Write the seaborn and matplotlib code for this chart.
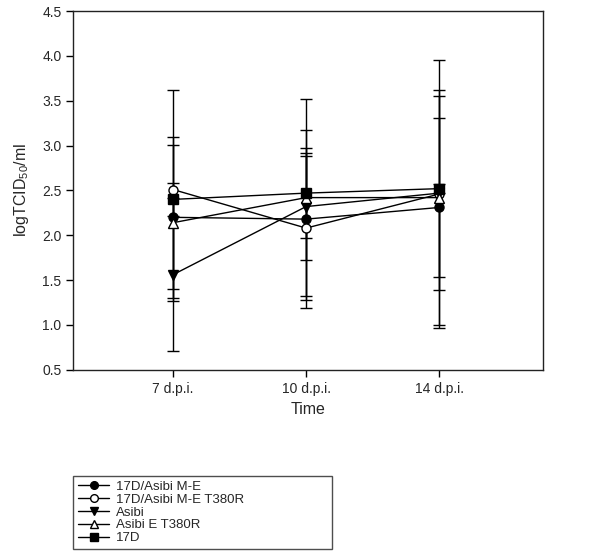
import matplotlib
matplotlib.use("Agg")
import matplotlib.pyplot as plt
import seaborn as sns
import pandas as pd
import numpy as np

sns.set_style("ticks")
plt.rcParams['font.family'] = ['Liberation Sans', 'DejaVu Sans']
plt.rcParams['mathtext.default'] = 'regular'

# data (mean and symmetric error per time point)
times = ["7 d.p.i.", "10 d.p.i.", "14 d.p.i."]
series = ["17D/Asibi M-E", "17D/Asibi M-E T380R", "Asibi", "Asibi E T380R", "17D"]

m_ME = [2.20, 2.18, 2.31]
m_ME_T380R = [2.51, 2.08, 2.46]
asibi = [1.56, 2.32, 2.47]
asibi_T380R = [2.14, 2.42, 2.42]
d17 = [2.40, 2.47, 2.52]

e_ME = [0.90, 0.99, 1.31]
e_ME_T380R = [1.11, 0.80, 1.50]
e_asibi = [0.85, 0.60, 1.08]
e_asibi_T380R = [0.87, 1.10, 0.89]
e_d17 = [0.18, 0.50, 0.05]

means = [m_ME, m_ME_T380R, asibi, asibi_T380R, d17]
errs = [e_ME, e_ME_T380R, e_asibi, e_asibi_T380R, e_d17]
markers = ["o", "o", "v", "^", "s"]
faces = ["black", "white", "black", "white", "black"]

fig = plt.figure(figsize=(6.0, 5.56), dpi=100)
ax = fig.add_axes([0.122, 0.335, 0.783, 0.645])

xpos = np.arange(1, len(times) + 1)
handles = []
for name, m, e, mk, fc in zip(series, means, errs, markers, faces):
    df = pd.DataFrame({"x": xpos, "y": m})
    ax.errorbar(xpos, m, yerr=e, fmt="none", ecolor="black", elinewidth=1,
                capsize=4, capthick=1, zorder=1)
    sns.lineplot(data=df, x="x", y="y", ax=ax, color="black", linewidth=1,
                 marker=mk, markersize=6.5, markerfacecolor=fc,
                 markeredgecolor="black", markeredgewidth=1, zorder=3)
    handles.append(ax.lines[-1])

ax.set_xlim(0.25, 3.78)
ax.set_ylim(0.5, 4.5)
ax.set_xticks(xpos)
ax.set_xticklabels(times, fontsize=10)
ax.set_yticks(np.arange(0.5, 4.51, 0.5))
ax.set_yticklabels([f"{v:.1f}" for v in np.arange(0.5, 4.51, 0.5)], fontsize=10)
ax.tick_params(direction="out", length=5, width=1, color="black")
for s in ax.spines.values():
    s.set_color("#222222")
    s.set_linewidth(1)
ax.set_xlabel("Time", fontsize=11.5, labelpad=5)
ax.set_ylabel("logTCID$_{50}$/ml", fontsize=11.5, labelpad=8)

leg = fig.legend(handles, series, loc="lower left",
                 bbox_to_anchor=(0.122, 0.0126, 0.432, 0.12), mode="expand",
                 fontsize=9.5, frameon=True, fancybox=False, borderpad=0.35,
                 labelspacing=0.05, handlelength=2.4, handletextpad=0.5,
                 markerscale=0.85, borderaxespad=0)
leg.get_frame().set_edgecolor("#222222")
leg.get_frame().set_linewidth(1)

fig.savefig("out.png", dpi=100)
